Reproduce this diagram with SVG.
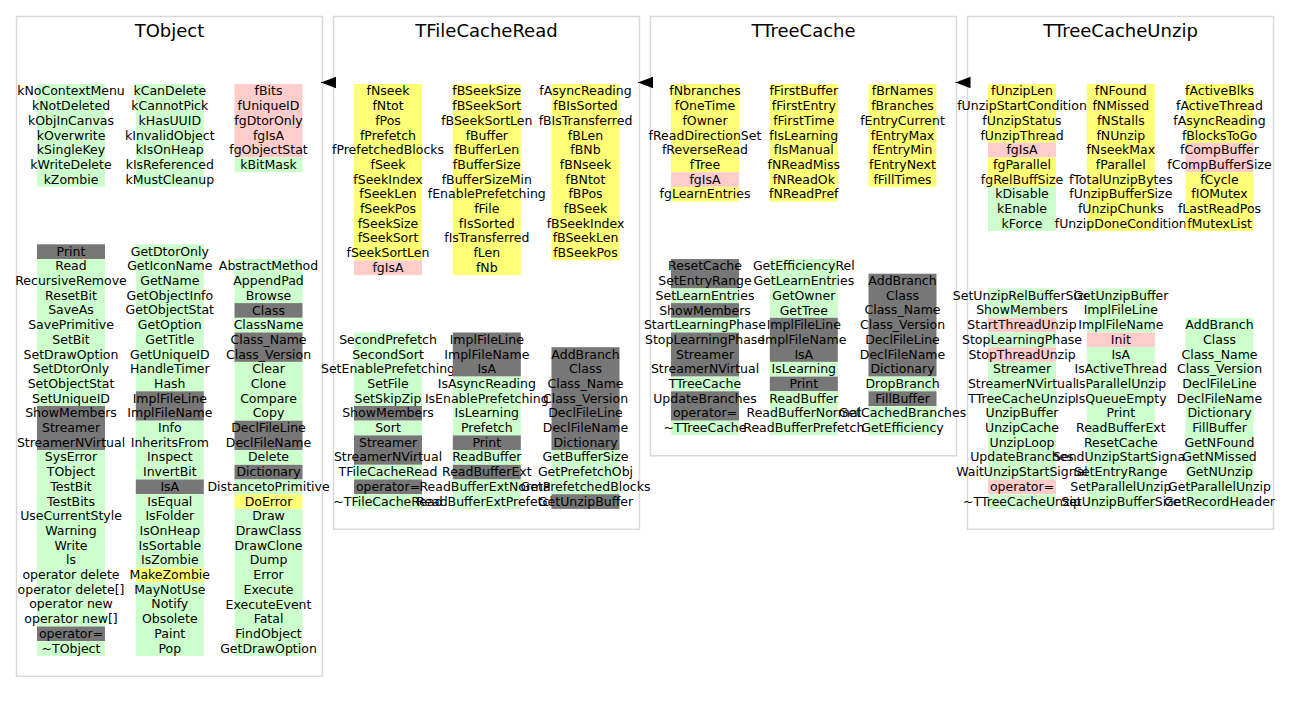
<svg xmlns="http://www.w3.org/2000/svg" width="1291" height="703" viewBox="0 0 1291 703">
  <defs>
    <style>
      .frame{fill:#fff;stroke:#d9d9d9;stroke-width:1.5}
      .t{font-family:"DejaVu Sans",Verdana,sans-serif;font-size:12.5px;text-anchor:middle;fill:#000}
      .title{font-family:"DejaVu Sans",Verdana,sans-serif;font-size:18px;text-anchor:middle;fill:#000}
      .g{fill:#ccffcc}
      .p{fill:#ffcccc}
      .y{fill:#ffff77}
      .d{fill:#777777}
      .edge{stroke:#000;stroke-width:1;fill:none}
    </style>
    <marker id="inherit" markerUnits="userSpaceOnUse" markerWidth="16" markerHeight="12" refX="15" refY="5.75" orient="auto" overflow="visible">
      <path d="M0,0 L15,5.75 L0,11.5 Z" fill="#000"/>
    </marker>
  </defs>
  <rect width="1291" height="703" fill="#fff"/>

  <!-- TObject -->
  <g id="TObject">
    <rect class="frame" x="16.5" y="16.5" width="306" height="659.8"/>
    <text class="title" x="169.5" y="36.5">TObject</text>
    <g transform="translate(37,84)">
      <rect class="g" width="68" height="102.9"/>
      <text class="t" y="11.4"><tspan x="34">kNoContextMenu</tspan><tspan x="34" dy="14.7">kNotDeleted</tspan><tspan x="34" dy="14.7">kObjInCanvas</tspan><tspan x="34" dy="14.7">kOverwrite</tspan><tspan x="34" dy="14.7">kSingleKey</tspan><tspan x="34" dy="14.7">kWriteDelete</tspan><tspan x="34" dy="14.7">kZombie</tspan></text>
    </g>
    <g transform="translate(135.8,84)">
      <rect class="g" width="68" height="102.9"/>
      <text class="t" y="11.4"><tspan x="34">kCanDelete</tspan><tspan x="34" dy="14.7">kCannotPick</tspan><tspan x="34" dy="14.7">kHasUUID</tspan><tspan x="34" dy="14.7">kInvalidObject</tspan><tspan x="34" dy="14.7">kIsOnHeap</tspan><tspan x="34" dy="14.7">kIsReferenced</tspan><tspan x="34" dy="14.7">kMustCleanup</tspan></text>
    </g>
    <g transform="translate(234.5,84)">
      <rect class="p" width="68" height="73.5"/>
      <rect class="g" y="73.5" width="68" height="14.7"/>
      <text class="t" y="11.4"><tspan x="34">fBits</tspan><tspan x="34" dy="14.7">fUniqueID</tspan><tspan x="34" dy="14.7">fgDtorOnly</tspan><tspan x="34" dy="14.7">fgIsA</tspan><tspan x="34" dy="14.7">fgObjectStat</tspan><tspan x="34" dy="14.7">kBitMask</tspan></text>
    </g>
    <g transform="translate(37,244.3)">
      <rect class="d" width="68" height="14.7"/>
      <rect class="g" y="14.7" width="68" height="147"/>
      <rect class="d" y="161.7" width="68" height="44.1"/>
      <rect class="g" y="205.8" width="68" height="176.4"/>
      <rect class="d" y="382.2" width="68" height="14.7"/>
      <rect class="g" y="396.9" width="68" height="14.7"/>
      <text class="t" y="11.4"><tspan x="34">Print</tspan><tspan x="34" dy="14.7">Read</tspan><tspan x="34" dy="14.7">RecursiveRemove</tspan><tspan x="34" dy="14.7">ResetBit</tspan><tspan x="34" dy="14.7">SaveAs</tspan><tspan x="34" dy="14.7">SavePrimitive</tspan><tspan x="34" dy="14.7">SetBit</tspan><tspan x="34" dy="14.7">SetDrawOption</tspan><tspan x="34" dy="14.7">SetDtorOnly</tspan><tspan x="34" dy="14.7">SetObjectStat</tspan><tspan x="34" dy="14.7">SetUniqueID</tspan><tspan x="34" dy="14.7">ShowMembers</tspan><tspan x="34" dy="14.7">Streamer</tspan><tspan x="34" dy="14.7">StreamerNVirtual</tspan><tspan x="34" dy="14.7">SysError</tspan><tspan x="34" dy="14.7">TObject</tspan><tspan x="34" dy="14.7">TestBit</tspan><tspan x="34" dy="14.7">TestBits</tspan><tspan x="34" dy="14.7">UseCurrentStyle</tspan><tspan x="34" dy="14.7">Warning</tspan><tspan x="34" dy="14.7">Write</tspan><tspan x="34" dy="14.7">ls</tspan><tspan x="34" dy="14.7">operator delete</tspan><tspan x="34" dy="14.7">operator delete[]</tspan><tspan x="34" dy="14.7">operator new</tspan><tspan x="34" dy="14.7">operator new[]</tspan><tspan x="34" dy="14.7">operator=</tspan><tspan x="34" dy="14.7">~TObject</tspan></text>
    </g>
    <g transform="translate(135.8,244.3)">
      <rect class="g" width="68" height="147"/>
      <rect class="d" y="147" width="68" height="29.4"/>
      <rect class="g" y="176.4" width="68" height="58.8"/>
      <rect class="d" y="235.2" width="68" height="14.7"/>
      <rect class="g" y="249.9" width="68" height="73.5"/>
      <rect class="y" y="323.4" width="68" height="14.7"/>
      <rect class="g" y="338.1" width="68" height="73.5"/>
      <text class="t" y="11.4"><tspan x="34">GetDtorOnly</tspan><tspan x="34" dy="14.7">GetIconName</tspan><tspan x="34" dy="14.7">GetName</tspan><tspan x="34" dy="14.7">GetObjectInfo</tspan><tspan x="34" dy="14.7">GetObjectStat</tspan><tspan x="34" dy="14.7">GetOption</tspan><tspan x="34" dy="14.7">GetTitle</tspan><tspan x="34" dy="14.7">GetUniqueID</tspan><tspan x="34" dy="14.7">HandleTimer</tspan><tspan x="34" dy="14.7">Hash</tspan><tspan x="34" dy="14.7">ImplFileLine</tspan><tspan x="34" dy="14.7">ImplFileName</tspan><tspan x="34" dy="14.7">Info</tspan><tspan x="34" dy="14.7">InheritsFrom</tspan><tspan x="34" dy="14.7">Inspect</tspan><tspan x="34" dy="14.7">InvertBit</tspan><tspan x="34" dy="14.7">IsA</tspan><tspan x="34" dy="14.7">IsEqual</tspan><tspan x="34" dy="14.7">IsFolder</tspan><tspan x="34" dy="14.7">IsOnHeap</tspan><tspan x="34" dy="14.7">IsSortable</tspan><tspan x="34" dy="14.7">IsZombie</tspan><tspan x="34" dy="14.7">MakeZombie</tspan><tspan x="34" dy="14.7">MayNotUse</tspan><tspan x="34" dy="14.7">Notify</tspan><tspan x="34" dy="14.7">Obsolete</tspan><tspan x="34" dy="14.7">Paint</tspan><tspan x="34" dy="14.7">Pop</tspan></text>
    </g>
    <g transform="translate(234.5,259)">
      <rect class="g" width="68" height="44.1"/>
      <rect class="d" y="44.1" width="68" height="14.7"/>
      <rect class="g" y="58.8" width="68" height="14.7"/>
      <rect class="d" y="73.5" width="68" height="29.4"/>
      <rect class="g" y="102.9" width="68" height="58.8"/>
      <rect class="d" y="161.7" width="68" height="29.4"/>
      <rect class="g" y="191.1" width="68" height="14.7"/>
      <rect class="d" y="205.8" width="68" height="14.7"/>
      <rect class="g" y="220.5" width="68" height="14.7"/>
      <rect class="y" y="235.2" width="68" height="14.7"/>
      <rect class="g" y="249.9" width="68" height="147"/>
      <text class="t" y="11.4"><tspan x="34">AbstractMethod</tspan><tspan x="34" dy="14.7">AppendPad</tspan><tspan x="34" dy="14.7">Browse</tspan><tspan x="34" dy="14.7">Class</tspan><tspan x="34" dy="14.7">ClassName</tspan><tspan x="34" dy="14.7">Class_Name</tspan><tspan x="34" dy="14.7">Class_Version</tspan><tspan x="34" dy="14.7">Clear</tspan><tspan x="34" dy="14.7">Clone</tspan><tspan x="34" dy="14.7">Compare</tspan><tspan x="34" dy="14.7">Copy</tspan><tspan x="34" dy="14.7">DeclFileLine</tspan><tspan x="34" dy="14.7">DeclFileName</tspan><tspan x="34" dy="14.7">Delete</tspan><tspan x="34" dy="14.7">Dictionary</tspan><tspan x="34" dy="14.7">DistancetoPrimitive</tspan><tspan x="34" dy="14.7">DoError</tspan><tspan x="34" dy="14.7">Draw</tspan><tspan x="34" dy="14.7">DrawClass</tspan><tspan x="34" dy="14.7">DrawClone</tspan><tspan x="34" dy="14.7">Dump</tspan><tspan x="34" dy="14.7">Error</tspan><tspan x="34" dy="14.7">Execute</tspan><tspan x="34" dy="14.7">ExecuteEvent</tspan><tspan x="34" dy="14.7">Fatal</tspan><tspan x="34" dy="14.7">FindObject</tspan><tspan x="34" dy="14.7">GetDrawOption</tspan></text>
    </g>
  </g>

  <!-- TFileCacheRead -->
  <g id="TFileCacheRead">
    <rect class="frame" x="333.5" y="16.5" width="306" height="512.8"/>
    <text class="title" x="486.5" y="36.5">TFileCacheRead</text>
    <g transform="translate(354,84)">
      <rect class="y" width="68" height="176.4"/>
      <rect class="p" y="176.4" width="68" height="14.7"/>
      <text class="t" y="11.4"><tspan x="34">fNseek</tspan><tspan x="34" dy="14.7">fNtot</tspan><tspan x="34" dy="14.7">fPos</tspan><tspan x="34" dy="14.7">fPrefetch</tspan><tspan x="34" dy="14.7">fPrefetchedBlocks</tspan><tspan x="34" dy="14.7">fSeek</tspan><tspan x="34" dy="14.7">fSeekIndex</tspan><tspan x="34" dy="14.7">fSeekLen</tspan><tspan x="34" dy="14.7">fSeekPos</tspan><tspan x="34" dy="14.7">fSeekSize</tspan><tspan x="34" dy="14.7">fSeekSort</tspan><tspan x="34" dy="14.7">fSeekSortLen</tspan><tspan x="34" dy="14.7">fgIsA</tspan></text>
    </g>
    <g transform="translate(452.8,84)">
      <rect class="y" width="68" height="191.1"/>
      <text class="t" y="11.4"><tspan x="34">fBSeekSize</tspan><tspan x="34" dy="14.7">fBSeekSort</tspan><tspan x="34" dy="14.7">fBSeekSortLen</tspan><tspan x="34" dy="14.7">fBuffer</tspan><tspan x="34" dy="14.7">fBufferLen</tspan><tspan x="34" dy="14.7">fBufferSize</tspan><tspan x="34" dy="14.7">fBufferSizeMin</tspan><tspan x="34" dy="14.7">fEnablePrefetching</tspan><tspan x="34" dy="14.7">fFile</tspan><tspan x="34" dy="14.7">fIsSorted</tspan><tspan x="34" dy="14.7">fIsTransferred</tspan><tspan x="34" dy="14.7">fLen</tspan><tspan x="34" dy="14.7">fNb</tspan></text>
    </g>
    <g transform="translate(551.5,84)">
      <rect class="y" width="68" height="176.4"/>
      <text class="t" y="11.4"><tspan x="34">fAsyncReading</tspan><tspan x="34" dy="14.7">fBIsSorted</tspan><tspan x="34" dy="14.7">fBIsTransferred</tspan><tspan x="34" dy="14.7">fBLen</tspan><tspan x="34" dy="14.7">fBNb</tspan><tspan x="34" dy="14.7">fBNseek</tspan><tspan x="34" dy="14.7">fBNtot</tspan><tspan x="34" dy="14.7">fBPos</tspan><tspan x="34" dy="14.7">fBSeek</tspan><tspan x="34" dy="14.7">fBSeekIndex</tspan><tspan x="34" dy="14.7">fBSeekLen</tspan><tspan x="34" dy="14.7">fBSeekPos</tspan></text>
    </g>
    <g transform="translate(354,332.5)">
      <rect class="g" width="68" height="73.5"/>
      <rect class="d" y="73.5" width="68" height="14.7"/>
      <rect class="g" y="88.2" width="68" height="14.7"/>
      <rect class="d" y="102.9" width="68" height="29.4"/>
      <rect class="g" y="132.3" width="68" height="14.7"/>
      <rect class="d" y="147" width="68" height="14.7"/>
      <rect class="g" y="161.7" width="68" height="14.7"/>
      <text class="t" y="11.4"><tspan x="34">SecondPrefetch</tspan><tspan x="34" dy="14.7">SecondSort</tspan><tspan x="34" dy="14.7">SetEnablePrefetching</tspan><tspan x="34" dy="14.7">SetFile</tspan><tspan x="34" dy="14.7">SetSkipZip</tspan><tspan x="34" dy="14.7">ShowMembers</tspan><tspan x="34" dy="14.7">Sort</tspan><tspan x="34" dy="14.7">Streamer</tspan><tspan x="34" dy="14.7">StreamerNVirtual</tspan><tspan x="34" dy="14.7">TFileCacheRead</tspan><tspan x="34" dy="14.7">operator=</tspan><tspan x="34" dy="14.7">~TFileCacheRead</tspan></text>
    </g>
    <g transform="translate(452.8,332.5)">
      <rect class="d" width="68" height="44.1"/>
      <rect class="g" y="44.1" width="68" height="58.8"/>
      <rect class="d" y="102.9" width="68" height="14.7"/>
      <rect class="g" y="117.6" width="68" height="14.7"/>
      <rect class="d" y="132.3" width="68" height="14.7"/>
      <rect class="g" y="147" width="68" height="29.4"/>
      <text class="t" y="11.4"><tspan x="34">ImplFileLine</tspan><tspan x="34" dy="14.7">ImplFileName</tspan><tspan x="34" dy="14.7">IsA</tspan><tspan x="34" dy="14.7">IsAsyncReading</tspan><tspan x="34" dy="14.7">IsEnablePrefetching</tspan><tspan x="34" dy="14.7">IsLearning</tspan><tspan x="34" dy="14.7">Prefetch</tspan><tspan x="34" dy="14.7">Print</tspan><tspan x="34" dy="14.7">ReadBuffer</tspan><tspan x="34" dy="14.7">ReadBufferExt</tspan><tspan x="34" dy="14.7">ReadBufferExtNormal</tspan><tspan x="34" dy="14.7">ReadBufferExtPrefetch</tspan></text>
    </g>
    <g transform="translate(551.5,347.2)">
      <rect class="d" width="68" height="102.9"/>
      <rect class="g" y="102.9" width="68" height="44.1"/>
      <rect class="d" y="147" width="68" height="14.7"/>
      <text class="t" y="11.4"><tspan x="34">AddBranch</tspan><tspan x="34" dy="14.7">Class</tspan><tspan x="34" dy="14.7">Class_Name</tspan><tspan x="34" dy="14.7">Class_Version</tspan><tspan x="34" dy="14.7">DeclFileLine</tspan><tspan x="34" dy="14.7">DeclFileName</tspan><tspan x="34" dy="14.7">Dictionary</tspan><tspan x="34" dy="14.7">GetBufferSize</tspan><tspan x="34" dy="14.7">GetPrefetchObj</tspan><tspan x="34" dy="14.7">GetPrefetchedBlocks</tspan><tspan x="34" dy="14.7">GetUnzipBuffer</tspan></text>
    </g>
  </g>

  <!-- TTreeCache -->
  <g id="TTreeCache">
    <rect class="frame" x="650.5" y="16.5" width="306" height="439.3"/>
    <text class="title" x="803.5" y="36.5">TTreeCache</text>
    <g transform="translate(671,84)">
      <rect class="y" width="68" height="88.2"/>
      <rect class="p" y="88.2" width="68" height="14.7"/>
      <rect class="y" y="102.9" width="68" height="14.7"/>
      <text class="t" y="11.4"><tspan x="34">fNbranches</tspan><tspan x="34" dy="14.7">fOneTime</tspan><tspan x="34" dy="14.7">fOwner</tspan><tspan x="34" dy="14.7">fReadDirectionSet</tspan><tspan x="34" dy="14.7">fReverseRead</tspan><tspan x="34" dy="14.7">fTree</tspan><tspan x="34" dy="14.7">fgIsA</tspan><tspan x="34" dy="14.7">fgLearnEntries</tspan></text>
    </g>
    <g transform="translate(769.8,84)">
      <rect class="y" width="68" height="117.6"/>
      <text class="t" y="11.4"><tspan x="34">fFirstBuffer</tspan><tspan x="34" dy="14.7">fFirstEntry</tspan><tspan x="34" dy="14.7">fFirstTime</tspan><tspan x="34" dy="14.7">fIsLearning</tspan><tspan x="34" dy="14.7">fIsManual</tspan><tspan x="34" dy="14.7">fNReadMiss</tspan><tspan x="34" dy="14.7">fNReadOk</tspan><tspan x="34" dy="14.7">fNReadPref</tspan></text>
    </g>
    <g transform="translate(868.5,84)">
      <rect class="y" width="68" height="102.9"/>
      <text class="t" y="11.4"><tspan x="34">fBrNames</tspan><tspan x="34" dy="14.7">fBranches</tspan><tspan x="34" dy="14.7">fEntryCurrent</tspan><tspan x="34" dy="14.7">fEntryMax</tspan><tspan x="34" dy="14.7">fEntryMin</tspan><tspan x="34" dy="14.7">fEntryNext</tspan><tspan x="34" dy="14.7">fFillTimes</tspan></text>
    </g>
    <g transform="translate(671,259)">
      <rect class="d" width="68" height="29.4"/>
      <rect class="g" y="29.4" width="68" height="14.7"/>
      <rect class="d" y="44.1" width="68" height="14.7"/>
      <rect class="g" y="58.8" width="68" height="14.7"/>
      <rect class="d" y="73.5" width="68" height="44.1"/>
      <rect class="g" y="117.6" width="68" height="14.7"/>
      <rect class="d" y="132.3" width="68" height="29.4"/>
      <rect class="g" y="161.7" width="68" height="14.7"/>
      <text class="t" y="11.4"><tspan x="34">ResetCache</tspan><tspan x="34" dy="14.7">SetEntryRange</tspan><tspan x="34" dy="14.7">SetLearnEntries</tspan><tspan x="34" dy="14.7">ShowMembers</tspan><tspan x="34" dy="14.7">StartLearningPhase</tspan><tspan x="34" dy="14.7">StopLearningPhase</tspan><tspan x="34" dy="14.7">Streamer</tspan><tspan x="34" dy="14.7">StreamerNVirtual</tspan><tspan x="34" dy="14.7">TTreeCache</tspan><tspan x="34" dy="14.7">UpdateBranches</tspan><tspan x="34" dy="14.7">operator=</tspan><tspan x="34" dy="14.7">~TTreeCache</tspan></text>
    </g>
    <g transform="translate(769.8,259)">
      <rect class="g" width="68" height="58.8"/>
      <rect class="d" y="58.8" width="68" height="44.1"/>
      <rect class="g" y="102.9" width="68" height="14.7"/>
      <rect class="d" y="117.6" width="68" height="14.7"/>
      <rect class="g" y="132.3" width="68" height="44.1"/>
      <text class="t" y="11.4"><tspan x="34">GetEfficiencyRel</tspan><tspan x="34" dy="14.7">GetLearnEntries</tspan><tspan x="34" dy="14.7">GetOwner</tspan><tspan x="34" dy="14.7">GetTree</tspan><tspan x="34" dy="14.7">ImplFileLine</tspan><tspan x="34" dy="14.7">ImplFileName</tspan><tspan x="34" dy="14.7">IsA</tspan><tspan x="34" dy="14.7">IsLearning</tspan><tspan x="34" dy="14.7">Print</tspan><tspan x="34" dy="14.7">ReadBuffer</tspan><tspan x="34" dy="14.7">ReadBufferNormal</tspan><tspan x="34" dy="14.7">ReadBufferPrefetch</tspan></text>
    </g>
    <g transform="translate(868.5,273.7)">
      <rect class="d" width="68" height="102.9"/>
      <rect class="g" y="102.9" width="68" height="14.7"/>
      <rect class="d" y="117.6" width="68" height="14.7"/>
      <rect class="g" y="132.3" width="68" height="29.4"/>
      <text class="t" y="11.4"><tspan x="34">AddBranch</tspan><tspan x="34" dy="14.7">Class</tspan><tspan x="34" dy="14.7">Class_Name</tspan><tspan x="34" dy="14.7">Class_Version</tspan><tspan x="34" dy="14.7">DeclFileLine</tspan><tspan x="34" dy="14.7">DeclFileName</tspan><tspan x="34" dy="14.7">Dictionary</tspan><tspan x="34" dy="14.7">DropBranch</tspan><tspan x="34" dy="14.7">FillBuffer</tspan><tspan x="34" dy="14.7">GetCachedBranches</tspan><tspan x="34" dy="14.7">GetEfficiency</tspan></text>
    </g>
  </g>

  <!-- TTreeCacheUnzip -->
  <g id="TTreeCacheUnzip">
    <rect class="frame" x="967.5" y="16.5" width="306" height="512.8"/>
    <text class="title" x="1120.5" y="36.5">TTreeCacheUnzip</text>
    <g transform="translate(988,84)">
      <rect class="y" width="68" height="58.8"/>
      <rect class="p" y="58.8" width="68" height="14.7"/>
      <rect class="y" y="73.5" width="68" height="29.4"/>
      <rect class="g" y="102.9" width="68" height="44.1"/>
      <text class="t" y="11.4"><tspan x="34">fUnzipLen</tspan><tspan x="34" dy="14.7">fUnzipStartCondition</tspan><tspan x="34" dy="14.7">fUnzipStatus</tspan><tspan x="34" dy="14.7">fUnzipThread</tspan><tspan x="34" dy="14.7">fgIsA</tspan><tspan x="34" dy="14.7">fgParallel</tspan><tspan x="34" dy="14.7">fgRelBuffSize</tspan><tspan x="34" dy="14.7">kDisable</tspan><tspan x="34" dy="14.7">kEnable</tspan><tspan x="34" dy="14.7">kForce</tspan></text>
    </g>
    <g transform="translate(1086.8,84)">
      <rect class="y" width="68" height="147"/>
      <text class="t" y="11.4"><tspan x="34">fNFound</tspan><tspan x="34" dy="14.7">fNMissed</tspan><tspan x="34" dy="14.7">fNStalls</tspan><tspan x="34" dy="14.7">fNUnzip</tspan><tspan x="34" dy="14.7">fNseekMax</tspan><tspan x="34" dy="14.7">fParallel</tspan><tspan x="34" dy="14.7">fTotalUnzipBytes</tspan><tspan x="34" dy="14.7">fUnzipBufferSize</tspan><tspan x="34" dy="14.7">fUnzipChunks</tspan><tspan x="34" dy="14.7">fUnzipDoneCondition</tspan></text>
    </g>
    <g transform="translate(1185.5,84)">
      <rect class="y" width="68" height="58.8"/>
      <rect class="p" y="58.8" width="68" height="29.4"/>
      <rect class="y" y="88.2" width="68" height="58.8"/>
      <text class="t" y="11.4"><tspan x="34">fActiveBlks</tspan><tspan x="34" dy="14.7">fActiveThread</tspan><tspan x="34" dy="14.7">fAsyncReading</tspan><tspan x="34" dy="14.7">fBlocksToGo</tspan><tspan x="34" dy="14.7">fCompBuffer</tspan><tspan x="34" dy="14.7">fCompBufferSize</tspan><tspan x="34" dy="14.7">fCycle</tspan><tspan x="34" dy="14.7">fIOMutex</tspan><tspan x="34" dy="14.7">fLastReadPos</tspan><tspan x="34" dy="14.7">fMutexList</tspan></text>
    </g>
    <g transform="translate(988,288.4)">
      <rect class="g" width="68" height="29.4"/>
      <rect class="p" y="29.4" width="68" height="14.7"/>
      <rect class="g" y="44.1" width="68" height="14.7"/>
      <rect class="p" y="58.8" width="68" height="14.7"/>
      <rect class="g" y="73.5" width="68" height="117.6"/>
      <rect class="p" y="191.1" width="68" height="14.7"/>
      <rect class="g" y="205.8" width="68" height="14.7"/>
      <text class="t" y="11.4"><tspan x="34">SetUnzipRelBufferSize</tspan><tspan x="34" dy="14.7">ShowMembers</tspan><tspan x="34" dy="14.7">StartThreadUnzip</tspan><tspan x="34" dy="14.7">StopLearningPhase</tspan><tspan x="34" dy="14.7">StopThreadUnzip</tspan><tspan x="34" dy="14.7">Streamer</tspan><tspan x="34" dy="14.7">StreamerNVirtual</tspan><tspan x="34" dy="14.7">TTreeCacheUnzip</tspan><tspan x="34" dy="14.7">UnzipBuffer</tspan><tspan x="34" dy="14.7">UnzipCache</tspan><tspan x="34" dy="14.7">UnzipLoop</tspan><tspan x="34" dy="14.7">UpdateBranches</tspan><tspan x="34" dy="14.7">WaitUnzipStartSignal</tspan><tspan x="34" dy="14.7">operator=</tspan><tspan x="34" dy="14.7">~TTreeCacheUnzip</tspan></text>
    </g>
    <g transform="translate(1086.8,288.4)">
      <rect class="g" width="68" height="44.1"/>
      <rect class="p" y="44.1" width="68" height="14.7"/>
      <rect class="g" y="58.8" width="68" height="161.7"/>
      <text class="t" y="11.4"><tspan x="34">GetUnzipBuffer</tspan><tspan x="34" dy="14.7">ImplFileLine</tspan><tspan x="34" dy="14.7">ImplFileName</tspan><tspan x="34" dy="14.7">Init</tspan><tspan x="34" dy="14.7">IsA</tspan><tspan x="34" dy="14.7">IsActiveThread</tspan><tspan x="34" dy="14.7">IsParallelUnzip</tspan><tspan x="34" dy="14.7">IsQueueEmpty</tspan><tspan x="34" dy="14.7">Print</tspan><tspan x="34" dy="14.7">ReadBufferExt</tspan><tspan x="34" dy="14.7">ResetCache</tspan><tspan x="34" dy="14.7">SendUnzipStartSignal</tspan><tspan x="34" dy="14.7">SetEntryRange</tspan><tspan x="34" dy="14.7">SetParallelUnzip</tspan><tspan x="34" dy="14.7">SetUnzipBufferSize</tspan></text>
    </g>
    <g transform="translate(1185.5,317.8)">
      <rect class="g" width="68" height="191.1"/>
      <text class="t" y="11.4"><tspan x="34">AddBranch</tspan><tspan x="34" dy="14.7">Class</tspan><tspan x="34" dy="14.7">Class_Name</tspan><tspan x="34" dy="14.7">Class_Version</tspan><tspan x="34" dy="14.7">DeclFileLine</tspan><tspan x="34" dy="14.7">DeclFileName</tspan><tspan x="34" dy="14.7">Dictionary</tspan><tspan x="34" dy="14.7">FillBuffer</tspan><tspan x="34" dy="14.7">GetNFound</tspan><tspan x="34" dy="14.7">GetNMissed</tspan><tspan x="34" dy="14.7">GetNUnzip</tspan><tspan x="34" dy="14.7">GetParallelUnzip</tspan><tspan x="34" dy="14.7">GetRecordHeader</tspan></text>
    </g>
  </g>

  <!-- inheritance edges: derived class -> base class -->
  <g id="connectors">
    <path class="edge" d="M336,82.5 L321,82.5" marker-end="url(#inherit)"/>
    <path class="edge" d="M653,82.5 L638,82.5" marker-end="url(#inherit)"/>
    <path class="edge" d="M970.5,82.5 L955.5,82.5" marker-end="url(#inherit)"/>
  </g>
</svg>
